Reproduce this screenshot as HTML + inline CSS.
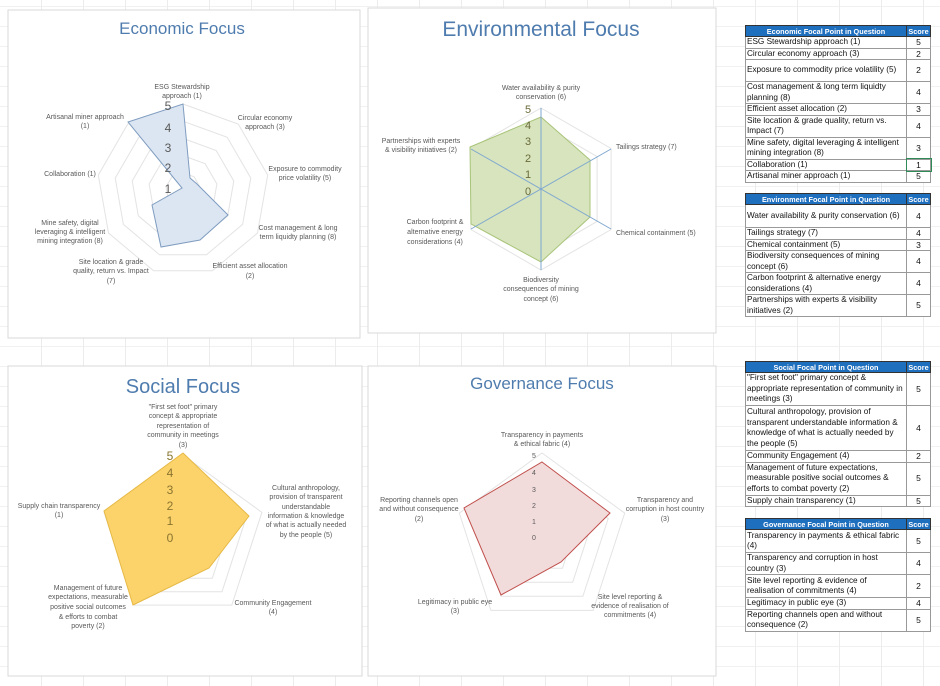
<!DOCTYPE html>
<html><head><meta charset="utf-8">
<style>
body{margin:0;width:940px;height:686px;overflow:hidden;background:#fff;font-family:"Liberation Sans",Arial,sans-serif;position:relative;
background-image:repeating-linear-gradient(90deg,transparent 0 41px,#ececec 41px 42px),repeating-linear-gradient(0deg,transparent 0 19px,#f1f1f1 19px 20px);}
svg{position:absolute;left:0;top:0}
table{position:absolute;border-collapse:collapse;font-size:8.2px;color:#111;background:#fff;table-layout:fixed}
td{border:1px solid #999;padding:0 1px;line-height:10.5px;vertical-align:middle;overflow:hidden;white-space:normal}
td.s{text-align:center;border-left:1.5px solid #333;font-size:8.5px}
th{background:#1f6fbf;color:#fff;font-size:7.3px;font-weight:bold;height:10px;padding:0;border:1px solid #333}
table{border:1.5px solid #333}
</style></head><body>
<svg width="940" height="686" id="sv" font-family="Liberation Sans, Arial, sans-serif">
<rect x="8" y="10" width="352" height="328" fill="#fff" stroke="#d9d9d9"/>
<rect x="368" y="8" width="348" height="325" fill="#fff" stroke="#d9d9d9"/>
<rect x="8" y="366" width="354" height="310" fill="#fff" stroke="#d9d9d9"/>
<rect x="368" y="366" width="348" height="310" fill="#fff" stroke="#d9d9d9"/>
<g fill="#4f7cae" text-anchor="middle">
<text x="182" y="34" font-size="17">Economic Focus</text>
<text x="541" y="36" font-size="21">Environmental Focus</text>
<text x="183" y="393" font-size="20">Social Focus</text>
<text x="542" y="389" font-size="17">Governance Focus</text>
</g>
<g id="rings"></g>
<polygon points="183,104 190,178 197,184 228,215 200,240 161,247 152,205 182,188 128,122" fill="#dce6f2" stroke="#7f9cc0" stroke-width="1"/>
<polygon points="541,117 590,160 590,217 541,262 471,224 470,147" fill="#d7e4bd" stroke="#a9c47a" stroke-width="1"/>
<g stroke="#7fa7d0" stroke-width="1">
<line x1="541" y1="189" x2="541" y2="108"/><line x1="541" y1="189" x2="541" y2="270"/>
<line x1="471" y1="149" x2="611" y2="229"/><line x1="471" y1="229" x2="611" y2="149"/>
</g>
<polygon points="183,453 249,516 209,568 133,605 104,511" fill="#fcd36a" stroke="#e6b946"/>
<polygon points="542,462 610,513 561,562 501,595 464,508" fill="#f2dcdb" stroke="#c0504d"/>
<g fill="#595959" font-size="7" text-anchor="middle">
<text x="182" y="89">ESG Stewardship</text><text x="182" y="98">approach (1)</text>
<text x="265" y="120">Circular economy</text><text x="265" y="129">approach (3)</text>
<text x="305" y="171">Exposure to commodity</text><text x="305" y="180">price volatility (5)</text>
<text x="298" y="230">Cost management &amp; long</text><text x="298" y="239">term liquidty planning (8)</text>
<text x="250" y="268">Efficient asset allocation</text><text x="250" y="278">(2)</text>
<text x="111" y="264">Site location &amp; grade</text><text x="111" y="273">quality, return vs. Impact</text><text x="111" y="283">(7)</text>
<text x="70" y="225">Mine safety, digital</text><text x="70" y="234">leveraging  &amp; intelligent</text><text x="70" y="243">mining integration (8)</text>
<text x="70" y="176">Collaboration (1)</text>
<text x="85" y="119">Artisanal miner approach</text><text x="85" y="128">(1)</text>

<text x="541" y="90">Water availability &amp; purity</text><text x="541" y="99">conservation (6)</text>
<text x="616" y="149" text-anchor="start">Tailings strategy (7)</text>
<text x="616" y="235" text-anchor="start">Chemical containment (5)</text>
<text x="541" y="282">Biodiversity</text><text x="541" y="291">consequences  of mining</text><text x="541" y="301">concept (6)</text>
<text x="435" y="224">Carbon footprint &amp;</text><text x="435" y="234">alternative energy</text><text x="435" y="244">considerations (4)</text>
<text x="421" y="143">Partnerships with experts</text><text x="421" y="152">&amp; visibility initiatives (2)</text>

<text x="183" y="409">"First set foot" primary</text><text x="183" y="418">concept &amp; appropriate</text><text x="183" y="428">representation of</text><text x="183" y="437">community in meetings</text><text x="183" y="447">(3)</text>
<text x="306" y="490">Cultural anthropology,</text><text x="306" y="499">provision of transparent</text><text x="306" y="509">understandable</text><text x="306" y="518">information &amp; knowledge</text><text x="306" y="527">of what is actually needed</text><text x="306" y="537">by the people (5)</text>
<text x="59" y="508">Supply chain transparency</text><text x="59" y="517">(1)</text>
<text x="88" y="590">Management of future</text><text x="88" y="599">expectations, measurable</text><text x="88" y="609">positive social outcomes</text><text x="88" y="619">&amp; efforts to combat</text><text x="88" y="628">poverty (2)</text>
<text x="273" y="605">Community Engagement</text><text x="273" y="614">(4)</text>

<text x="542" y="437">Transparency in payments</text><text x="542" y="446">&amp; ethical fabric (4)</text>
<text x="665" y="502">Transparency and</text><text x="665" y="511">corruption in host country</text><text x="665" y="521">(3)</text>
<text x="419" y="502">Reporting channels open</text><text x="419" y="511">and without consequence</text><text x="419" y="521">(2)</text>
<text x="630" y="599">Site level reporting &amp;</text><text x="630" y="608">evidence of realisation of</text><text x="630" y="617">commitments (4)</text>
<text x="455" y="604">Legitimacy in public eye</text><text x="455" y="613">(3)</text>
</g>
<g fill="#595959" font-size="12" text-anchor="middle">
<text x="168" y="193">1</text><text x="168" y="172">2</text><text x="168" y="152">3</text><text x="168" y="132">4</text><text x="168" y="110">5</text>
</g>
<g fill="#6b6b3a" font-size="11" text-anchor="middle">
<text x="528" y="195">0</text><text x="528" y="178">1</text><text x="528" y="162">2</text><text x="528" y="145">3</text><text x="528" y="129">4</text><text x="528" y="113">5</text>
</g>
<g fill="#8a7430" font-size="12" text-anchor="middle">
<text x="170" y="542">0</text><text x="170" y="525">1</text><text x="170" y="510">2</text><text x="170" y="494">3</text><text x="170" y="477">4</text><text x="170" y="460">5</text>
</g>
<g fill="#595959" font-size="7" text-anchor="middle">
<text x="534" y="540">0</text><text x="534" y="524">1</text><text x="534" y="508">2</text><text x="534" y="492">3</text><text x="534" y="475">4</text><text x="534" y="458">5</text>
</g>
</svg>
<script>
(function(){
var g=document.getElementById('rings'),s='';
function ring(cx,cy,n,r){var p=[];for(var i=0;i<n;i++){var a=-Math.PI/2+2*Math.PI*i/n;p.push((cx+r*Math.cos(a)).toFixed(1)+','+(cy+r*Math.sin(a)).toFixed(1));}return p.join(' ');}
function rings(cx,cy,n,R,k){for(var j=1;j<=k;j++)s+='<polygon points="'+ring(cx,cy,n,R*j/k)+'" fill="none" stroke="#e3e3e3" stroke-width="1"/>';}
rings(183,190,9,86,5);rings(541,189,6,81,5);rings(183,538,5,83,5);rings(542,540,5,87,5);
g.innerHTML=s;
})();
</script>

<table style="left:745px;top:25px;width:185px">
<colgroup><col style="width:161px"><col style="width:24px"></colgroup>
<tr><th>Economic Focal Point in Question</th><th>Score</th></tr>
<tr style="height:11px"><td>ESG Stewardship approach (1)</td><td class="s">5</td></tr>
<tr style="height:11px"><td>Circular economy approach (3)</td><td class="s">2</td></tr>
<tr style="height:22px"><td>Exposure to commodity price volatility (5)</td><td class="s">2</td></tr>
<tr style="height:22px"><td>Cost management &amp; long term liquidty planning (8)</td><td class="s">4</td></tr>
<tr style="height:11px"><td>Efficient asset allocation (2)</td><td class="s">3</td></tr>
<tr style="height:22px"><td>Site location &amp; grade quality, return vs. Impact (7)</td><td class="s">4</td></tr>
<tr style="height:22px"><td>Mine safety, digital leveraging  &amp; intelligent mining integration (8)</td><td class="s">3</td></tr>
<tr style="height:11px"><td>Collaboration (1)</td><td class="s" style="outline:1px solid #2e8b57">1</td></tr>
<tr style="height:11px"><td>Artisanal miner approach (1)</td><td class="s">5</td></tr>
</table>

<table style="left:745px;top:193px;width:185px">
<colgroup><col style="width:161px"><col style="width:24px"></colgroup>
<tr><th>Environment Focal Point in Question</th><th>Score</th></tr>
<tr style="height:23px"><td>Water availability &amp; purity conservation (6)</td><td class="s">4</td></tr>
<tr style="height:11px"><td>Tailings strategy (7)</td><td class="s">4</td></tr>
<tr style="height:11px"><td>Chemical containment (5)</td><td class="s">3</td></tr>
<tr style="height:22px"><td>Biodiversity consequences  of mining concept (6)</td><td class="s">4</td></tr>
<tr style="height:22px"><td>Carbon footprint &amp; alternative energy considerations (4)</td><td class="s">4</td></tr>
<tr style="height:22px"><td>Partnerships with experts &amp; visibility initiatives (2)</td><td class="s">5</td></tr>
</table>

<table style="left:745px;top:361px;width:185px">
<colgroup><col style="width:161px"><col style="width:24px"></colgroup>
<tr><th>Social Focal Point in Question</th><th>Score</th></tr>
<tr style="height:33px"><td>"First set foot" primary concept &amp; appropriate representation of community in meetings (3)</td><td class="s">5</td></tr>
<tr style="height:45px"><td>Cultural anthropology, provision of transparent understandable information &amp; knowledge of what is actually needed by the people (5)</td><td class="s">4</td></tr>
<tr style="height:11px"><td>Community Engagement (4)</td><td class="s">2</td></tr>
<tr style="height:33px"><td>Management of future expectations, measurable positive social outcomes &amp; efforts to combat poverty (2)</td><td class="s">5</td></tr>
<tr style="height:11px"><td>Supply chain transparency (1)</td><td class="s">5</td></tr>
</table>

<table style="left:745px;top:518px;width:185px">
<colgroup><col style="width:161px"><col style="width:24px"></colgroup>
<tr><th>Governance Focal Point in Question</th><th>Score</th></tr>
<tr style="height:23px"><td>Transparency in payments &amp; ethical fabric (4)</td><td class="s">5</td></tr>
<tr style="height:22px"><td>Transparency and corruption in host country (3)</td><td class="s">4</td></tr>
<tr style="height:23px"><td>Site level reporting &amp; evidence of realisation of commitments (4)</td><td class="s">2</td></tr>
<tr style="height:11px"><td>Legitimacy in public eye (3)</td><td class="s">4</td></tr>
<tr style="height:22px"><td>Reporting channels open and without consequence (2)</td><td class="s">5</td></tr>
</table>
</body></html>
